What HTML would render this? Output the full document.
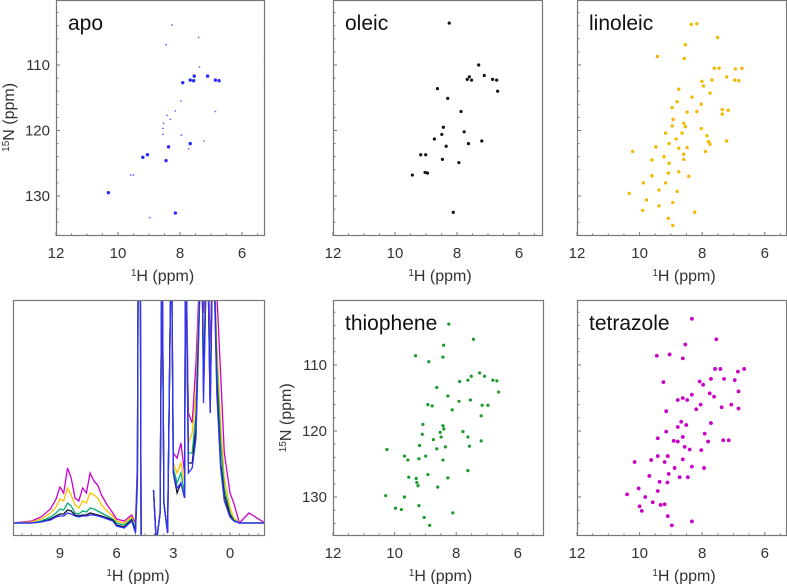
<!DOCTYPE html>
<html><head><meta charset="utf-8"><style>
html,body{margin:0;padding:0;background:#fff;}
svg{display:block;font-family:"Liberation Sans",sans-serif;}
</style></head><body>
<svg id="fig" width="787" height="584" viewBox="0 0 787 584"></svg>
<script>
// ---- HSQC peak data [1H ppm, 15N ppm] ----
const apoBig = [[7.91,112.7],[7.67,112.3],[7.54,111.7],[7.56,112.4],[7.11,111.7],[6.86,112.3],[6.74,112.4],[8.45,124.6],[7.67,122.0],[8.37,122.5],[9.2,124.1],[9.05,123.7],[10.31,129.5],[8.15,132.6]];
const apoSmall = [[8.26,103.9],[7.4,105.8],[8.45,106.9],[7.37,110.3],[7.97,115.5],[8.42,117.7],[8.31,118.3],[8.53,118.9],[8.55,119.7],[8.55,120.6],[7.96,120.7],[7.22,121.6],[7.72,122.8],[9.5,126.8],[9.59,126.8],[8.98,133.3],[8.15,117.0],[6.86,117.1],[5.27,108.9],[5.27,112.3]];
const oleicPeaks = [[8.25,103.6],[7.67,112.2],[7.6,111.8],[7.53,112.3],[7.12,111.6],[6.85,112.2],[6.72,112.3],[6.69,114.0],[7.3,110.0],[8.3,115.1],[8.63,113.6],[8.44,119.5],[8.49,120.6],[7.77,120.2],[8.73,121.3],[8.35,122.4],[7.2,121.6],[7.63,122.0],[9.01,123.7],[9.17,123.7],[8.47,124.4],[7.94,124.9],[9.44,126.8],[9.03,126.4],[8.95,126.5],[8.12,132.5],[7.87,117.1]];
const linoleicPeaks = [[8.35,103.8],[8.17,103.7],[7.51,105.8],[8.54,106.9],[9.43,108.7],[8.57,109.0],[7.61,110.5],[7.46,110.5],[6.94,110.6],[6.73,110.5],[7.69,112.3],[8.01,112.5],[7.22,111.8],[6.96,112.3],[6.83,112.4],[8.75,113.7],[7.96,113.2],[7.75,114.3],[8.33,114.9],[8.8,115.6],[8.03,116.0],[8.96,116.5],[8.17,117.1],[7.36,116.8],[7.17,116.9],[7.36,117.5],[8.48,117.2],[8.93,118.3],[8.59,118.9],[8.54,119.4],[8.96,119.3],[9.17,120.4],[8.64,120.4],[8.03,119.7],[7.85,120.8],[8.83,121.3],[9.06,122.0],[7.8,121.7],[7.75,122.1],[7.22,121.6],[9.48,122.5],[8.75,122.7],[8.48,122.6],[10.22,123.2],[9.22,124.0],[9.61,124.5],[8.59,124.4],[8.59,123.6],[7.9,123.2],[9.06,125.0],[8.75,126.3],[9.08,126.5],[9.61,126.9],[9.88,128.0],[9.38,129.1],[10.33,129.6],[9.78,130.6],[8.94,131.0],[9.38,131.5],[9.9,132.2],[8.24,132.5],[9.08,133.4],[8.94,134.5],[8.43,127.0],[9.17,128.0],[8.8,129.3]];
const thiophenePeaks = [[8.24,103.8],[7.44,106.1],[8.41,107.0],[9.32,108.6],[8.43,108.8],[8.89,109.5],[7.24,111.2],[7.51,111.7],[7.08,111.7],[7.62,112.3],[6.81,112.3],[6.68,112.4],[7.89,112.5],[8.63,113.4],[6.62,114.1],[8.27,114.7],[7.91,115.5],[7.54,115.3],[8.92,116.0],[8.78,116.2],[7.16,116.1],[6.97,116.1],[8.13,116.8],[7.19,117.7],[9.08,119.0],[8.43,119.2],[8.4,119.7],[8.52,120.2],[8.49,120.9],[8.74,121.3],[9.1,120.5],[7.78,120.1],[7.62,120.9],[7.57,122.3],[7.19,121.5],[8.35,122.4],[8.63,122.7],[9.19,122.2],[10.25,122.8],[9.68,123.8],[8.99,123.8],[9.21,124.2],[8.43,124.4],[9.57,124.4],[7.62,126.0],[9.54,127.0],[9.3,127.2],[8.92,126.6],[8.27,127.1],[9.28,127.8],[8.6,128.5],[10.29,129.8],[9.68,130.0],[9.21,131.3],[9.78,131.9],[9.97,131.7],[8.11,132.4],[9.04,133.1],[8.86,134.3],[9.24,128.3]];
const tetrazolePeaks = [[8.33,103.0],[7.55,106.1],[8.54,106.9],[9.45,108.6],[9.04,108.4],[8.62,109.0],[9.24,112.6],[7.59,110.6],[7.42,110.6],[7.72,112.1],[7.3,112.1],[6.96,112.3],[6.66,110.6],[6.86,111.0],[8.08,112.5],[7.97,113.0],[8.33,114.5],[7.76,114.3],[7.62,114.8],[6.84,114.0],[8.78,115.3],[8.48,115.3],[8.62,115.0],[8.05,116.0],[9.15,117.0],[8.19,116.7],[7.38,116.4],[7.07,116.0],[6.84,116.6],[7.72,118.8],[8.67,118.6],[8.78,119.4],[8.51,119.1],[9.15,120.1],[7.92,120.4],[7.81,121.6],[9.42,121.1],[8.91,121.5],[8.62,120.9],[8.56,122.4],[8.4,122.8],[8.03,122.9],[7.33,121.4],[7.15,121.4],[8.78,121.6],[8.62,124.3],[9.1,123.8],[9.42,123.8],[9.63,124.4],[10.16,124.7],[9.2,124.7],[8.88,125.6],[8.33,125.4],[7.94,125.6],[9.69,126.8],[9.07,126.5],[9.36,127.7],[9.11,127.8],[8.72,127.0],[8.46,127.0],[10.03,128.7],[9.42,129.1],[10.4,129.6],[9.82,130.0],[9.58,130.8],[9.33,131.2],[9.2,131.1],[10.0,131.4],[9.93,132.1],[9.1,132.9],[8.97,134.3],[8.33,133.7]];
// ---- 1D spectrum data ----
const specPpm = [11.5,10.5,10,9.5,9.2,9,8.8,8.6,8.4,8.2,8,7.8,7.6,7.4,7.2,7,6.8,6.5,6.2,6,5.6,5.2,5.0,4.9,4.85,4.75,4.7,4.6,4.1,4.05,3.9,3.7,3.6,3.5,3.3,3.1,3.0,2.8,2.6,2.4,2.35,2.2,2.0,1.8,1.5,1.4,1.2,1.05,0.9,0.7,0.5,0.3,0,-0.2,-0.5,-1,-1.85];
const specMagenta = [0,2,6,14,24,36,30,55,45,25,22,35,30,50,42,38,28,18,10,4,2,8,0,60,300,300,-50,-50,null,33,-20,10,300,20,-10,300,70,65,80,50,300,110,100,160,300,210,300,170,300,230,150,70,30,20,0,10,0];
const specYellow = [0,1,4,10,16,24,22,35,28,18,15,22,20,30,28,25,18,12,7,2,0,6,-5,55,300,300,-50,-50,null,33,-20,10,300,20,-10,300,60,50,60,40,300,80,90,130,300,170,300,140,300,180,100,45,15,5,0,0,0];
const specGreen = [0,0,2,6,10,14,13,20,17,10,9,12,11,15,14,12,10,7,4,0,-2,4,-5,50,300,300,-50,-50,null,33,-20,10,300,20,-10,300,55,40,50,30,300,70,70,110,300,150,300,125,300,160,80,35,10,3,0,0,0];
const specBlack = [0,0,1,4,7,9,9,13,12,8,7,8,8,10,9,8,7,5,3,-2,-4,3,-8,45,300,300,-50,-50,null,33,-20,10,300,20,-10,300,50,30,40,25,300,60,60,95,300,130,300,110,300,140,60,28,8,2,0,0,0];
const specBlue = [0,0,1,3,6,7,7,10,9,7,6,7,7,8,8,7,6,4,2,-3,-5,2,-10,40,300,300,-50,-50,null,33,-20,10,300,20,-10,300,50,35,40,25,300,50,55,85,300,120,300,110,300,130,55,22,6,2,0,0,0];

const NS='http://www.w3.org/2000/svg';
const svg=document.getElementById('fig');
function mk(tag,attrs,parent){const e=document.createElementNS(NS,tag);for(const k in attrs)e.setAttribute(k,attrs[k]);(parent||svg).appendChild(e);return e;}

function hsqc(name,x0,y0,x1,y1,px12,pxH,yN110,pxN,color,peaks,r,showY,small){
  const g=mk('g',{});
  
  
  const xs=h=>px12+(12-h)*pxH, ys=n=>yN110+(n-110)*pxN;
  const cid='clip-'+name;
  const cp=mk('clipPath',{id:cid},g);mk('rect',{x:x0,y:y0,width:x1-x0,height:y1-y0},cp);
  const dg=mk('g',{'clip-path':'url(#'+cid+')'},g);
  if(small){small.forEach(p=>{const c=mk('circle',{cx:xs(p[0]),cy:ys(p[1]),r:0.9,fill:color,opacity:0.7},dg);
    
    });}
  peaks.forEach(p=>{const c=mk('circle',{cx:xs(p[0]),cy:ys(p[1]),r:r,fill:color},dg);
    
    });
  const fr=mk('rect',{x:x0+0.5,y:y0+0.5,width:x1-x0-1,height:y1-y0-1,fill:'none',stroke:'#777','stroke-width':1.2},g);
  
  
  for(let h=12;h>=5.25;h-=0.5){const x=xs(h);const big=Math.abs(h-Math.round(h/2)*2)<0.01;
    mk('line',{x1:x,x2:x,y1:y1,y2:y1-(big?4:2.5),stroke:'#777'},g);}
  [12,10,8,6].forEach(h=>{const t=mk('text',{x:xs(h),y:y1+22,'text-anchor':'middle','font-size':15,fill:'#333'},g);t.textContent=h;
    
    });
  for(let n=102;n<=136;n+=2){const y=ys(n);if(y<y0||y>y1)continue;mk('line',{x1:x0,x2:x0+(n%10==0?4:2.5),y1:y,y2:y,stroke:'#777'},g);}
  const xt=mk('text',{x:(x0+x1)/2+2,y:y1+45,'text-anchor':'middle','font-size':16,fill:'#333'},g);
  xt.innerHTML='<tspan font-size="10" dy="-5">1</tspan><tspan dy="5">H (ppm)</tspan>';
  
  
  if(showY){
    [110,120,130].forEach(n=>{const t=mk('text',{x:x0-6,y:ys(n)+5,'text-anchor':'end','font-size':15,fill:'#333'},g);t.textContent=n;
      
      });
    const cy=ys(118);
    const yt=mk('text',{x:x0-42,y:cy,'text-anchor':'middle','font-size':16,fill:'#333',transform:'rotate(-90 '+(x0-42)+' '+cy+')'},g);
    yt.innerHTML='<tspan font-size="10" dy="-5">15</tspan><tspan dy="5">N (ppm)</tspan>';
    
    
  }
  const lb=mk('text',{x:x0+12,y:y0+30,'font-size':21,fill:'#111'},g);lb.textContent=name;
  
  
}
hsqc('apo',56,0,265,236,56,31,65,6.55,'#2a2aff',apoBig,1.7,true,apoSmall);
hsqc('oleic',333,0,543,236,333,31,65,6.55,'#111',oleicPeaks,1.6,false);
hsqc('linoleic',577,0,787,236,577,31.3,65,6.55,'#f5b800',linoleicPeaks,1.7,false);
hsqc('thiophene',333,300,544,536,333,30.8,365,6.6,'#1a9a2a',thiophenePeaks,1.6,true);
hsqc('tetrazole',577,300,787,536,577,31.3,365,6.6,'#c800c8',tetrazolePeaks,1.9,false);

// ---- 1D spectrum panel ----
(function(){
  const x0=13,x1=265,y0=300,y1=536,base=523;
  const xs=p=>230-p*18.9, ys=v=>base-v;
  const g=mk('g',{});
  
  
  const cp=mk('clipPath',{id:'clip-spec'},g);mk('rect',{x:x0,y:y0,width:x1-x0,height:y1-y0},cp);
  const dg=mk('g',{'clip-path':'url(#clip-spec)'},g);
  const series=[['magenta',specMagenta,'#cc00cc'],['yellow',specYellow,'#ffc000'],['green',specGreen,'#00b070'],['black',specBlack,'#101030'],['blue',specBlue,'#3333ff']];
  series.forEach(s=>{
    let d='',pen=false;
    specPpm.forEach((p,i)=>{const v=s[1][i];if(v===null){pen=false;return;}
      d+=(pen?'L':'M')+xs(p).toFixed(1)+' '+ys(v).toFixed(1)+' ';pen=true;});
    const path=mk('path',{d:d,fill:'none',stroke:s[2],'stroke-width':1.3},dg);
    
    
  });
  const fr=mk('rect',{x:x0+0.5,y:y0+0.5,width:x1-x0-1,height:y1-y0-1,fill:'none',stroke:'#777','stroke-width':1.2},g);
  
  
  for(let p=11;p>=-1.5;p-=0.5){const x=xs(p);mk('line',{x1:x,x2:x,y1:y1,y2:y1-(p%3==0?4:2.5),stroke:'#777'},g);}
  [9,6,3,0].forEach(p=>{const t=mk('text',{x:xs(p),y:y1+22,'text-anchor':'middle','font-size':15,fill:'#333'},g);t.textContent=p;
    
    });
  const xt=mk('text',{x:138,y:y1+45,'text-anchor':'middle','font-size':16,fill:'#333'},g);
  xt.innerHTML='<tspan font-size="10" dy="-5">1</tspan><tspan dy="5">H (ppm)</tspan>';
  
  
})();
</script>
</body></html>
